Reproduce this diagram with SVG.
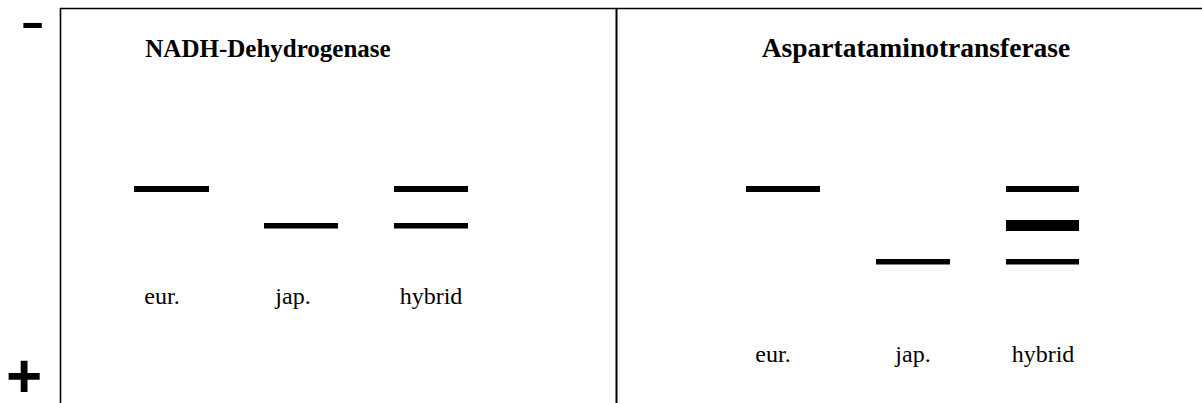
<svg xmlns="http://www.w3.org/2000/svg" width="1202" height="403" viewBox="0 0 1202 403">
<style>
.frame{stroke:#000;fill:none}
.band{fill:#000}
.title{font-family:"Liberation Serif","Times New Roman",serif;font-weight:bold;font-size:25px;text-anchor:middle;fill:#000}
.lbl{font-family:"Liberation Serif","Times New Roman",serif;font-size:24px;text-anchor:middle;fill:#000}
.sign{font-family:"Liberation Sans",Arial,sans-serif;font-size:62px;text-anchor:middle;fill:#000}
</style>
<rect width="1202" height="403" fill="#fff"/>
<g id="frame">
<line class="frame" x1="60" y1="8.5" x2="1202" y2="8.5" stroke-width="1.6"/>
<line class="frame" x1="60.5" y1="8" x2="60.5" y2="403" stroke-width="1.6"/>
<line class="frame" x1="616.5" y1="8" x2="616.5" y2="403" stroke-width="2"/>
</g>
<g id="signs">
<text class="sign" x="0" y="0" transform="translate(32.5,43) scale(1.18,1)" style="font-size:64px">-</text>
<text class="sign" x="24" y="397" style="font-weight:bold">+</text>
</g>
<g id="panel-nadh">
<text class="title" x="268" y="57">NADH-Dehydrogenase</text>
<rect class="band" x="134" y="186" width="75" height="6"/>
<rect class="band" x="264" y="223" width="74" height="5.5"/>
<rect class="band" x="394" y="186" width="74" height="6"/>
<rect class="band" x="394" y="223" width="74" height="5.5"/>
<text class="lbl" x="162" y="304">eur.</text>
<text class="lbl" x="293" y="304">jap.</text>
<text class="lbl" x="431" y="304">hybrid</text>
</g>
<g id="panel-aat">
<text class="title" x="916" y="57" style="font-size:27.5px">Aspartataminotransferase</text>
<rect class="band" x="746" y="186" width="74" height="6"/>
<rect class="band" x="876" y="259" width="74" height="5.5"/>
<rect class="band" x="1006" y="186" width="73" height="6"/>
<rect class="band" x="1006" y="220" width="73" height="11"/>
<rect class="band" x="1006" y="259" width="73" height="5.5"/>
<text class="lbl" x="773" y="362">eur.</text>
<text class="lbl" x="913" y="362">jap.</text>
<text class="lbl" x="1043" y="362">hybrid</text>
</g>
</svg>
